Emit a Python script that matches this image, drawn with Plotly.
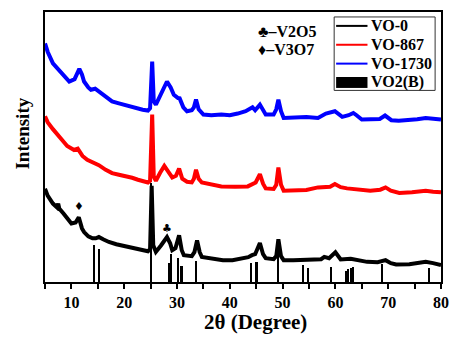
import plotly.graph_objects as go

# ---------------- data ----------------
# intensities in arbitrary units (0 = x-axis baseline)
vo0_x = [5, 5.5, 6.5, 7.3, 7.5, 7.7, 8.5, 10, 10.8, 11.4, 12, 12.4, 13.2, 14, 14.6, 15.2, 16, 17.1,
         18.5, 20, 21.5, 22.6, 23.5, 24.5, 24.9, 25.2, 25.5, 26.0, 27.0, 28.1, 28.7, 29.1, 29.7,
         30.4, 30.9, 31.3, 32.8, 33.3, 33.8, 34.3, 34.7, 36.5, 38.7, 40.5, 42.4, 43.5, 44.2, 44.8,
         45.7, 46.3, 46.8, 48.3, 48.8, 49.2, 49.7, 50.2, 52, 53.6, 55, 56.1, 57.3, 57.9, 58.8, 60.0,
         61.0, 62.9, 64.5, 66, 68, 69.5, 70.5, 71.5, 74, 77.1, 78.5, 80]
vo0_y = [94, 87, 79, 75, 79, 74, 69, 59, 60, 65.3, 54, 50.3, 46, 44, 44, 45.3, 43, 40.3,
         38, 36, 34, 33, 32, 31, 33, 97, 37, 30.3, 37, 45.3, 39, 32, 34,
         47, 32, 27, 26, 30, 42, 30, 25.3, 24, 22, 22, 24, 25, 27, 28,
         39.3, 28, 24, 23, 26, 43, 26, 22, 22, 22, 23, 22, 23, 25.3, 24, 30,
         22.7, 23.3, 22, 20.3, 20, 22, 19, 17.7, 18, 20.3, 19, 17]

vo867_x = [5, 5.5, 6.5, 7.5, 8.4, 9.2, 9.9, 10.5, 11.2, 11.7, 12.1, 13, 14, 15.2, 16.5, 17.7, 19,
           20.2, 21.5, 22.6, 23.5, 24.5, 24.9, 25.3, 25.6, 26, 26.8, 27.6, 28.5, 29.1, 29.8, 30.4,
           31.0, 31.9, 32.8, 33.2, 33.6, 34.1, 34.7, 36.5, 38.4, 41, 43.4, 44.9, 45.7, 46.3, 46.8,
           48.3, 48.8, 49.2, 49.7, 50.2, 52.5, 54.5, 56.7, 57.9, 59.0, 59.9, 61, 62.2, 64.5, 66.6,
           68.5, 69.5, 70.5, 72.1, 74.5, 77.1, 78.5, 80]
vo867_y = [167, 161, 154, 147, 142, 137, 134.3, 133, 134.3, 131, 127, 123, 120.3, 117.7, 113, 109.7, 108,
           107, 105, 103, 101.5, 100.3, 102, 168.7, 106, 102, 110, 117, 110, 105.3, 107, 114.3,
           104, 101, 100.3, 104, 113, 104, 100.3, 98, 96.3, 96, 96.3, 100.3, 108.7, 99, 94.3,
           93.7, 98, 115.3, 98, 92, 92.5, 92.7, 95.3, 95.3, 96, 98.7, 95.5, 94.3, 93, 92,
           93, 95.3, 92, 89.7, 90.5, 92, 91, 90.3]

vo1730_x = [5, 5.5, 6.5, 7.5, 8.4, 9.6, 10.6, 11.5, 12, 12.4, 13.2, 13.7, 14.5, 15.2, 16.5, 17.7, 19,
            20.2, 21.5, 22.6, 23.5, 24.5, 24.9, 25.3, 25.6, 26, 27, 28.1, 28.8, 29.4, 30.2, 30.5,
            31.2, 31.9, 32.8, 33.2, 33.6, 34.1, 35, 36.5, 38.4, 40, 41.5, 43, 44.3, 44.8, 45.7, 46.3,
            46.8, 48.3, 48.8, 49.2, 49.7, 50.2, 52.5, 54.5, 56.7, 58.2, 59.9, 60.5, 61.3, 62.5, 63.4,
            64, 65, 66.7, 68.4, 69.4, 70.6, 72, 74, 75.5, 77.1, 78.5, 80]
vo1730_y = [240.3, 232, 220.3, 214, 208.7, 202, 204.3, 214.7, 209, 202, 196, 193.7, 194.7, 192, 186, 182, 180,
            178, 176, 174.7, 173.5, 172.7, 175, 222, 182, 178.7, 190, 202, 196, 188.7, 185.3, 185,
            176, 172, 173, 176, 183.7, 174, 168.7, 168, 168.7, 168, 169.7, 172, 176, 173, 178.7, 172,
            168.7, 168.7, 174, 183.7, 172, 165.3, 166, 166.3, 165.3, 169.7, 172, 170, 166.3, 168, 170.3,
            168, 163.7, 164, 164.3, 167.7, 163, 162.5, 163, 164, 165.3, 165, 163.7]

# VO2(B) reference pattern (stick positions and heights)
ref_x = [14.4, 15.3, 25.2, 28.5, 28.9, 30.2, 30.9, 33.6, 44.1, 45.1, 49.2, 53.9, 54.9, 59.2,
         62.0, 62.5, 63.0, 63.4, 68.9, 77.8]
ref_h = [37, 33, 100, 19, 28, 24, 16, 21, 19, 20, 43, 17, 14, 15, 11, 13, 14, 15, 18, 14]

x_ticks = [5, 10, 15, 20, 25, 30, 35, 40, 45, 50, 55, 60, 65, 70, 75, 80]
x_ticktext = ["", "10", "", "20", "", "30", "", "40", "", "50", "", "60", "", "70", "", "80"]

series_names = ["VO-0", "VO-867", "VO-1730", "VO2(B)"]
series_colors = ["#000000", "#ff0000", "#0000ff", "#000000"]

phase_labels = ["\u2663\u2013V2O5", "\u2666\u2013V3O7"]
marker_pts = [(11.4, 76.3, "\u2666"), (28.1, 54, "\u2663")]

# ---------------- figure ----------------
FONT = "Liberation Serif, Times New Roman, serif"
fig = go.Figure()

fig.add_trace(go.Bar(x=ref_x, y=ref_h, width=0.3, marker=dict(color="black", line=dict(width=0)),
                     showlegend=False, hoverinfo="skip"))
for xs, ys, name, col in [(vo0_x, vo0_y, series_names[0], series_colors[0]),
                          (vo867_x, vo867_y, series_names[1], series_colors[1]),
                          (vo1730_x, vo1730_y, series_names[2], series_colors[2])]:
    fig.add_trace(go.Scatter(x=xs, y=ys, mode="lines", name=name,
                             line=dict(color=col, width=4), showlegend=False))

fig.update_layout(
    width=459, height=338,
    margin=dict(l=45, r=10, t=10, b=56),
    plot_bgcolor="white", paper_bgcolor="white",
    bargap=0,
    font=dict(family=FONT, color="black"),
    xaxis=dict(range=[5, 80], tickvals=x_ticks, ticktext=x_ticktext, ticks="outside",
               ticklen=5, tickwidth=1.5, tickcolor="black", showline=True, linecolor="black",
               linewidth=1.5, mirror=True, showgrid=False, zeroline=False,
               tickfont=dict(family=FONT, size=16, color="black", weight="bold")),
    yaxis=dict(range=[0, 272], showticklabels=False, ticks="", showline=True, linecolor="black",
               linewidth=1.5, mirror=True, showgrid=False, zeroline=False),
)

anns = []
# axis titles
anns.append(dict(text="<b>2\u03b8 (Degree)</b>", x=260, y=322, showarrow=False,
                 font=dict(size=21, family=FONT)))
anns.append(dict(text="<b>Intensity</b>", x=22, y=132, showarrow=False, textangle=-90,
                 font=dict(size=19, family=FONT)))
# phase labels
anns.append(dict(text="<b>" + phase_labels[0] + "</b>", x=325, y=30, showarrow=False,
                 xanchor="right", font=dict(size=16, family=FONT)))
anns.append(dict(text="<b>" + phase_labels[1] + "</b>", x=321, y=48, showarrow=False,
                 xanchor="right", font=dict(size=16, family=FONT)))
# convert pixel positions to paper coords
W0, W1, H0, H1 = 45, 449, 10, 282
for a in anns:
    a["xref"] = "paper"; a["yref"] = "paper"
    a["x"] = (a["x"] - W0) / (W1 - W0)
    a["y"] = (H1 - a["y"]) / (H1 - H0)
    a.setdefault("xanchor", "center")
    a["yanchor"] = "middle"

# markers over peaks
for mx, my, sym in marker_pts:
    anns.append(dict(text="<b>" + sym + "</b>", x=mx, y=my, xref="x", yref="y", showarrow=False,
                     font=dict(size=11, family="DejaVu Sans", color="black")))

def px2paper(px, py):
    return (px - W0) / (W1 - W0), (H1 - py) / (H1 - H0)

shapes = []
# legend box
bx0, by0 = px2paper(340, 89)
bx1, by1 = px2paper(443, 15)
shapes.append(dict(type="rect", xref="paper", yref="paper", x0=bx0, y0=by0, x1=bx1, y1=by1,
                   line=dict(color="#333333", width=1), fillcolor="rgba(0,0,0,0)"))
leg_y = [24, 43, 62, 81]
for i, (name, col) in enumerate(zip(series_names, series_colors)):
    lx0, ly = px2paper(342, leg_y[i])
    lx1, _ = px2paper(374, leg_y[i])
    if i < 3:
        shapes.append(dict(type="line", xref="paper", yref="paper", x0=lx0, x1=lx1, y0=ly, y1=ly,
                           line=dict(color=col, width=2)))
    else:
        _, ry0 = px2paper(0, leg_y[i] + 5.5)
        _, ry1 = px2paper(0, leg_y[i] - 5.5)
        shapes.append(dict(type="rect", xref="paper", yref="paper", x0=lx0, x1=lx1, y0=ry0, y1=ry1,
                           line=dict(width=0), fillcolor=col))
    tx, _ = px2paper(376, 0)
    anns.append(dict(text="<b>" + name + "</b>", x=tx, y=ly, xref="paper", yref="paper",
                     xanchor="left", yanchor="middle", showarrow=False,
                     font=dict(size=16, family=FONT)))

fig.update_layout(annotations=anns, shapes=shapes)
fig.write_html("out.html", config={"displayModeBar": False},
               post_script="document.body.style.margin='0';document.body.style.overflow='hidden';")
